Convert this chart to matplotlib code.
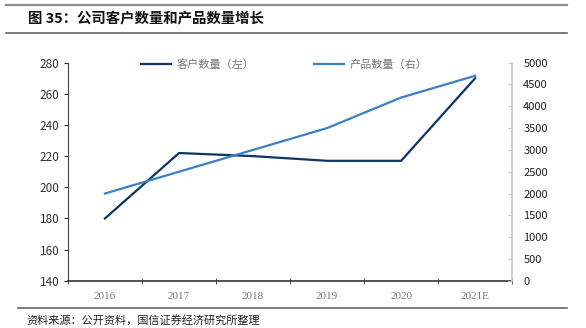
import matplotlib.pyplot as plt
from matplotlib.lines import Line2D

plt.rcParams['font.family'] = ['Noto Sans CJK SC', 'DejaVu Sans']

# 数据
years = ['2016', '2017', '2018', '2019', '2020', '2021E']
customers = [180, 222, 220, 217, 217, 270]        # 客户数量（左轴）
products = [2000, 2500, 3000, 3500, 4200, 4700]   # 产品数量（右轴）

dark_blue = '#0d3466'
light_blue = '#3a80c3'

fig = plt.figure(figsize=(5.86, 3.28), dpi=100)

# 标题和上下分隔线
fig.text(0.048, 0.945, '图 35：公司客户数量和产品数量增长', fontsize=10.4, fontweight='bold',
         va='center', ha='left', color='#111111')
fig.add_artist(Line2D([0.010, 0.967], [0.985, 0.985], color='#8c8c8c', lw=1.6))
fig.add_artist(Line2D([0.010, 0.967], [0.899, 0.899], color='#666666', lw=1.2))
fig.add_artist(Line2D([0.031, 0.967], [0.061, 0.061], color='#666666', lw=1.2))
fig.text(0.046, 0.024, '资料来源：公开资料，国信证券经济研究所整理', fontsize=8,
         va='center', ha='left', color='#222222')

ax = fig.add_axes([0.116, 0.144, 0.758, 0.665])
ax2 = ax.twinx()

x = range(len(years))
ax.plot(x, customers, color=dark_blue, lw=1.6, label='客户数量（左）')
ax2.plot(x, products, color=light_blue, lw=1.6, label='产品数量（右）')

ax.set_xlim(-0.5, len(years) - 0.5)
ax.set_ylim(140, 280)
ax.set_yticks(range(140, 281, 20))
ax2.set_ylim(0, 5000)
ax2.set_yticks(range(0, 5001, 500))

# 类别刻度放在分界处，标签居中
ax.set_xticks(list(x))
ax.set_xticklabels(years, family=['Liberation Serif', 'DejaVu Serif'], fontsize=8, color='#777777')
ax.set_xticks([i - 0.5 for i in range(len(years) + 1)], minor=True)
ax.tick_params(axis='x', which='major', length=0, pad=8)
ax.tick_params(axis='x', which='minor', length=4, direction='inout', color='#333333')

ax.tick_params(axis='y', length=3, direction='out', color='#333333', labelsize=8.5,
               labelcolor='#333333', pad=3)
ax2.tick_params(axis='y', length=3, direction='in', color='#c8c8c8', labelsize=8,
                labelcolor='#222222', pad=8)

for a in (ax, ax2):
    a.spines['top'].set_visible(False)
ax.spines['right'].set_visible(False)
ax.spines['left'].set_color('#444444')
ax.spines['bottom'].set_color('#333333')
ax.spines['bottom'].set_linewidth(1.2)
ax2.spines['left'].set_visible(False)
ax2.spines['bottom'].set_visible(False)
ax2.spines['right'].set_color('#c8c8c8')
ax2.spines['right'].set_linewidth(1.2)

h1, l1 = ax.get_legend_handles_labels()
h2, l2 = ax2.get_legend_handles_labels()
leg = ax.legend(h1 + h2, l1 + l2, loc='center', bbox_to_anchor=(0.487, 0.99), ncol=2,
                frameon=False, fontsize=8, handlelength=2.7, columnspacing=5.4,
                handletextpad=0.45)
for t in leg.get_texts():
    t.set_color('#777777')

fig.savefig('out.png', dpi=100)
